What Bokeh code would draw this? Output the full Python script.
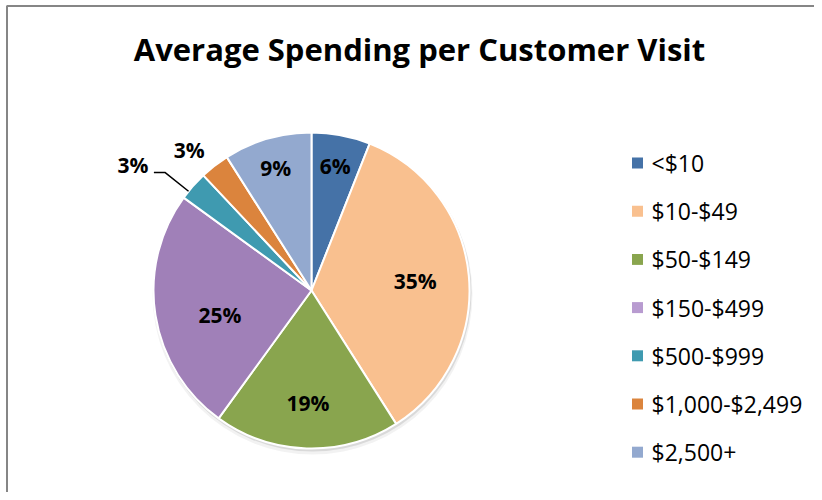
import math
from bokeh.plotting import figure
from bokeh.models import Range1d, ColumnDataSource
from bokeh.core.properties import value
from bokeh.embed import file_html
from bokeh.resources import INLINE

# ---------------- data ----------------
chart_title = "Average Spending per Customer Visit"
categories = ["<$10", "$10-$49", "$50-$149", "$150-$499", "$500-$999", "$1,000-$2,499", "$2,500+"]
shares = [6, 35, 19, 25, 3, 3, 9]
colors = ["#4572A7", "#F9C08F", "#89A54E", "#A080B8", "#3F9AB0", "#DB843D", "#93A9CF"]
legend_colors = ["#4572A7", "#F9C08F", "#89A54E", "#B89BD0", "#3F9AB0", "#DB843D", "#93A9CF"]

# ---------------- layout ----------------
W, H = 814, 492
CX, CY, R = 311, 202, 158
label_r = [0.80, 0.66, 0.71, 0.60, 1.38, 1.18, 0.81]
label_shift_deg = [0, 0, 0, -6, -6.4, -3.2, 0]
FONT = "Open Sans"
LABEL_PX = 21

p = figure(width=W, height=H, x_range=Range1d(0, W), y_range=Range1d(0, H),
           output_backend="svg", toolbar_location=None, min_border=0,
           x_axis_location=None, y_axis_location=None)
p.grid.visible = False
p.outline_line_color = None
p.background_fill_color = "white"
p.border_fill_color = "white"

# chart border (left and top visible in reference)
p.line([6.5, 6.5, W], [0, 486.5, 486.5], line_color="#868686", line_width=2)

total = float(sum(shares))
c0, c1, mids = [], [], []
acc = 0.0
for s in shares:
    c0.append(acc / total)
    acc += s
    c1.append(acc / total)
    mids.append((c0[-1] + c1[-1]) / 2)

start = [math.pi / 2 - 2 * math.pi * a for a in c0]
end = [math.pi / 2 - 2 * math.pi * b for b in c1]

# shadow
p.circle(x=CX + 1, y=CY - 4, radius=R + 2, fill_color="black", fill_alpha=0.05, line_color=None)
p.circle(x=CX + 1, y=CY - 2, radius=R + 1, fill_color="black", fill_alpha=0.10, line_color=None)

src = ColumnDataSource(dict(start=start, end=end, color=colors, cat=categories))
p.wedge(x=CX, y=CY, radius=R, start_angle="start", end_angle="end", direction="clock",
        fill_color="color", line_color="white", line_width=2, source=src)

# data labels
lx, ly, lt = [], [], []
for i, m in enumerate(mids):
    th = 2 * math.pi * m + math.radians(label_shift_deg[i])
    lx.append(CX + label_r[i] * R * math.sin(th))
    ly.append(CY + label_r[i] * R * math.cos(th))
    lt.append(f"{shares[i]}%")
p.text(x=lx, y=ly, text=lt, text_font=value(FONT), text_font_style="bold",
       text_font_size=f"{LABEL_PX}px", text_align="center", text_baseline="middle", text_color="black")

# leader line for the $500-$999 slice
i = 4
th_edge = 2 * math.pi * mids[i] - math.radians(2.5)
ex, ey = CX + R * math.sin(th_edge), CY + R * math.cos(th_edge)
p.line([lx[i] + 21, lx[i] + 32, ex], [ly[i] - 7, ly[i] - 7, ey], line_color="black", line_width=1.5)

# title
p.text(x=[419], y=[444], text=[chart_title], text_font=value(FONT), text_font_style="bold",
       text_font_size="31px", text_align="center", text_baseline="middle", text_color="black")

# legend
ys = [329.5 - 48.2 * k for k in range(len(categories))]
p.rect(x=[637] * len(categories), y=ys, width=11, height=11,
       fill_color=legend_colors, line_color=None)
p.text(x=[651] * len(categories), y=ys, text=categories, text_font=value(FONT),
       text_font_size="23px", text_align="left", text_baseline="middle", text_color="black")

open("out.html", "w").write(file_html(p, INLINE))
